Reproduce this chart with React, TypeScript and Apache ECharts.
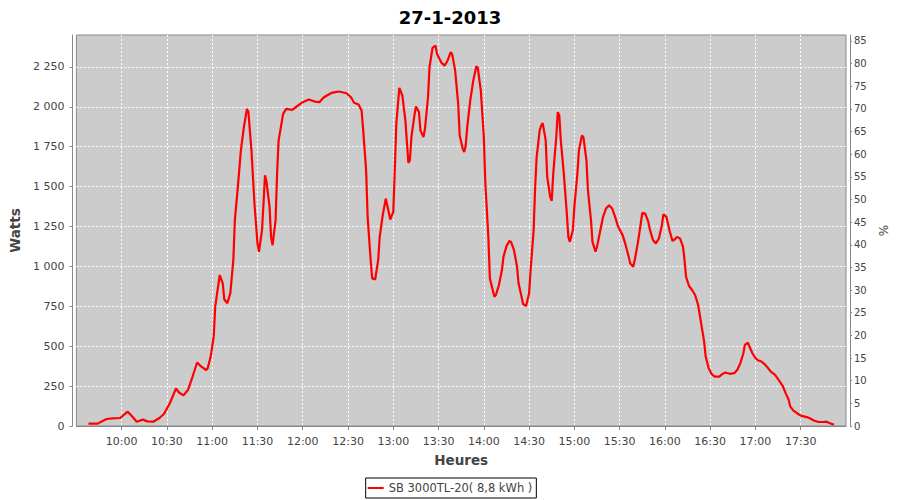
import React, { useEffect, useRef } from "react";
import * as echarts from "echarts";

// Chart title and labels
const chartTitle = "27-1-2013";
const seriesName = "SB 3000TL-20( 8,8 kWh )";
const xAxisName = "Heures";
const leftAxisName = "Watts";
const rightAxisName = "%";

// Axis ranges (minutes since midnight for X)
const xMinLabel = "9:30";
const xMaxLabel = "18:00";
const xStepMinutes = 30;
const wattsMax = 2450;
const wattsStep = 250;
const pctMax = 86.3;
const pctStep = 5;

// Measured power output
const times = [
  "9:38", "9:44", "9:50", "9:54", "9:59", "10:04", "10:07", "10:10", "10:14", "10:17",
  "10:21", "10:25", "10:28", "10:32", "10:36", "10:38", "10:41", "10:44", "10:47", "10:50",
  "10:52", "10:56", "10:57", "10:59", "11:01", "11:02", "11:05", "11:07", "11:08", "11:10",
  "11:12", "11:14", "11:15", "11:17", "11:19", "11:21", "11:23", "11:24", "11:26", "11:28",
  "11:30", "11:31", "11:33", "11:34", "11:35", "11:36", "11:38", "11:39", "11:40", "11:42",
  "11:43", "11:44", "11:47", "11:49", "11:53", "11:56", "12:00", "12:04", "12:08", "12:11",
  "12:14", "12:19", "12:24", "12:29", "12:32", "12:34", "12:37", "12:39", "12:40", "12:42",
  "12:43", "12:45", "12:46", "12:48", "12:50", "12:51", "12:53", "12:55", "12:56", "12:58",
  "13:00", "13:01", "13:02", "13:04", "13:06", "13:08", "13:10", "13:11", "13:12", "13:14",
  "13:15", "13:17", "13:18", "13:20", "13:21", "13:23", "13:24", "13:26", "13:28", "13:29",
  "13:32", "13:34", "13:36", "13:38", "13:39", "13:41", "13:43", "13:44", "13:46", "13:47",
  "13:48", "13:49", "13:51", "13:53", "13:55", "13:56", "13:58", "14:00", "14:01", "14:03",
  "14:04", "14:07", "14:08", "14:10", "14:12", "14:13", "14:15", "14:17", "14:18", "14:20",
  "14:22", "14:23", "14:25", "14:26", "14:28", "14:30", "14:31", "14:33", "14:34", "14:35",
  "14:37", "14:38", "14:39", "14:41", "14:42", "14:44", "14:45", "14:46", "14:48", "14:49",
  "14:50", "14:51", "14:53", "14:55", "14:56", "14:57", "14:59", "15:00", "15:02", "15:03",
  "15:05", "15:06", "15:08", "15:09", "15:11", "15:12", "15:14", "15:15", "15:17", "15:19",
  "15:21", "15:23", "15:25", "15:27", "15:29", "15:32", "15:34", "15:36", "15:37", "15:39",
  "15:40", "15:42", "15:44", "15:45", "15:47", "15:49", "15:50", "15:52", "15:54", "15:56",
  "15:58", "15:59", "16:01", "16:03", "16:05", "16:06", "16:08", "16:10", "16:12", "16:13",
  "16:14", "16:16", "16:18", "16:20", "16:22", "16:24", "16:26", "16:27", "16:29", "16:31",
  "16:33", "16:36", "16:38", "16:40", "16:43", "16:46", "16:48", "16:50", "16:52", "16:53",
  "16:55", "16:56", "16:58", "17:00", "17:02", "17:04", "17:06", "17:08", "17:10", "17:13",
  "17:15", "17:18", "17:20", "17:22", "17:23", "17:25", "17:28", "17:30", "17:34", "17:36",
  "17:39", "17:42", "17:45", "17:47", "17:49", "17:52",
];

const watts = [
  15, 15, 44, 48, 50, 90, 60, 27, 40, 29,
  27, 50, 75, 144, 235, 210, 192, 227, 310, 398,
  379, 350, 362, 435, 560, 748, 946, 894, 794, 769,
  831, 1040, 1290, 1498, 1727, 1873, 1987, 1967, 1727, 1394,
  1144, 1092, 1227, 1394, 1571, 1529, 1373, 1185, 1133, 1290,
  1581, 1790, 1956, 1987, 1981, 2002, 2029, 2046, 2033, 2029,
  2060, 2087, 2096, 2085, 2060, 2025, 2014, 1977, 1862, 1602,
  1310, 1040, 925, 919, 1040, 1185, 1321, 1425, 1383, 1294,
  1342, 1602, 1894, 2119, 2071, 1915, 1648, 1665, 1810, 1946,
  2002, 1967, 1852, 1810, 1862, 2060, 2248, 2369, 2383, 2331,
  2275, 2258, 2290, 2342, 2331, 2227, 2019, 1820, 1737, 1717,
  1758, 1873, 2040, 2164, 2254, 2244, 2102, 1810, 1519, 1185,
  925, 810, 821, 883, 977, 1060, 1127, 1160, 1154, 1102,
  998, 894, 810, 765, 752, 831, 977, 1227, 1498, 1685,
  1852, 1883, 1898, 1790, 1560, 1435, 1410, 1581, 1810, 1967,
  1946, 1790, 1581, 1331, 1185, 1154, 1227, 1373, 1581, 1727,
  1821, 1810, 1665, 1477, 1290, 1154, 1092, 1123, 1217, 1310,
  1363, 1383, 1363, 1310, 1248, 1196, 1133, 1060, 1019, 998,
  1040, 1144, 1269, 1335, 1331, 1279, 1232, 1167, 1144, 1175,
  1258, 1327, 1310, 1227, 1160, 1165, 1185, 1175, 1123, 1040,
  935, 877, 852, 821, 758, 644, 529, 435, 362, 325,
  310, 310, 325, 335, 327, 331, 352, 394, 456, 508,
  523, 498, 456, 425, 410, 404, 388, 367, 342, 321,
  294, 252, 206, 165, 123, 98, 77, 65, 56, 48,
  33, 25, 25, 27, 19, 8,
];

const toMinutes = (s: string) => {
  const [h, m] = s.split(":").map(Number);
  return h * 60 + m;
};
const fmtTime = (v: number) => {
  const h = Math.floor(v / 60);
  const m = Math.round(v - h * 60);
  return `${h}:${String(m).padStart(2, "0")}`;
};
const fmtWatts = (v: number) => {
  const n = Math.round(v);
  if (n >= 1000) return `${Math.floor(n / 1000)} ${String(n % 1000).padStart(3, "0")}`;
  return String(n);
};

const FONT = "DejaVu Sans";
const AXIS_COLOR = "#888888";
const LABEL_COLOR = "#444444";

export default function App() {
  const ref = useRef<HTMLDivElement>(null);

  useEffect(() => {
    if (!ref.current) return;
    const chart = echarts.init(ref.current, undefined, { renderer: "svg" });
    const data = times.map((t, i) => [toMinutes(t), watts[i]]);
    const gridLine = { show: true, showMinLine: false, showMaxLine: false, lineStyle: { color: "#ffffff", type: [2, 2], width: 1 } };

    chart.setOption({
      animation: false,
      backgroundColor: "#ffffff",
      title: {
        text: chartTitle,
        left: "center",
        top: 3,
        textStyle: { fontFamily: FONT, fontWeight: "bold", fontSize: 18, color: "#000000" },
      },
      legend: {
        bottom: 2,
        left: "center",
        borderColor: "#000000",
        borderWidth: 1,
        borderRadius: 0,
        padding: [4, 4, 4, 2],
        icon: "rect",
        itemWidth: 16,
        itemHeight: 2,
        textStyle: { fontFamily: FONT, fontSize: 11.5, color: LABEL_COLOR },
        data: [seriesName],
      },
      grid: {
        left: 75,
        right: 54,
        top: 35,
        bottom: 74,
        show: true,
        backgroundColor: "#cccccc",
        borderColor: AXIS_COLOR,
        borderWidth: 1,
      },
      xAxis: {
        type: "value",
        min: toMinutes(xMinLabel),
        max: toMinutes(xMaxLabel),
        interval: xStepMinutes,
        offset: 4,
        name: xAxisName,
        nameLocation: "middle",
        nameGap: 23,
        nameTextStyle: { fontFamily: FONT, fontWeight: "bold", fontSize: 13.5, color: LABEL_COLOR },
        axisLine: { show: true, lineStyle: { color: AXIS_COLOR } },
        axisTick: { show: true, length: 4, lineStyle: { color: AXIS_COLOR } },
        axisLabel: {
          formatter: (v: number) => fmtTime(v),
          showMinLabel: false,
          showMaxLabel: false,
          fontFamily: FONT,
          fontSize: 11,
          color: LABEL_COLOR,
          margin: 6,
        },
        splitLine: gridLine,
      },
      yAxis: [
        {
          type: "value",
          position: "left",
          min: 0,
          max: wattsMax,
          interval: wattsStep,
          offset: 4,
          name: leftAxisName,
          nameLocation: "middle",
          nameGap: 39,
          nameTextStyle: { fontFamily: FONT, fontWeight: "bold", fontSize: 13.5, color: LABEL_COLOR },
          axisLine: { show: true, lineStyle: { color: AXIS_COLOR } },
          axisTick: { show: true, length: 3, lineStyle: { color: AXIS_COLOR } },
          axisLabel: {
            formatter: (v: number) => (v % wattsStep === 0 ? fmtWatts(v) : ""),
            showMaxLabel: false,
            fontFamily: FONT,
            fontSize: 11,
            color: LABEL_COLOR,
            margin: 8,
          },
          splitLine: gridLine,
        },
        {
          type: "value",
          position: "right",
          min: 0,
          max: pctMax,
          interval: pctStep,
          offset: 4,
          name: rightAxisName,
          nameLocation: "middle",
          nameGap: 26,
          nameTextStyle: { fontFamily: FONT, fontSize: 12, color: LABEL_COLOR },
          axisLine: { show: true, lineStyle: { color: AXIS_COLOR } },
          axisTick: { show: true, length: 2, lineStyle: { color: AXIS_COLOR } },
          axisLabel: {
            formatter: (v: number) => (Math.abs(v % pctStep) < 1e-9 ? String(v) : ""),
            showMaxLabel: false,
            fontFamily: FONT,
            fontSize: 10,
            color: LABEL_COLOR,
            margin: 4,
          },
          splitLine: { show: false },
        },
      ],
      series: [
        {
          name: seriesName,
          type: "line",
          yAxisIndex: 0,
          data,
          showSymbol: false,
          symbol: "none",
          lineStyle: { color: "#ff0000", width: 2.2 },
          itemStyle: { color: "#ff0000" },
        },
      ],
    });

    return () => chart.dispose();
  }, []);

  return <div ref={ref} style={{ width: 900, height: 500, position: "absolute", left: 0, top: 0 }} />;
}
